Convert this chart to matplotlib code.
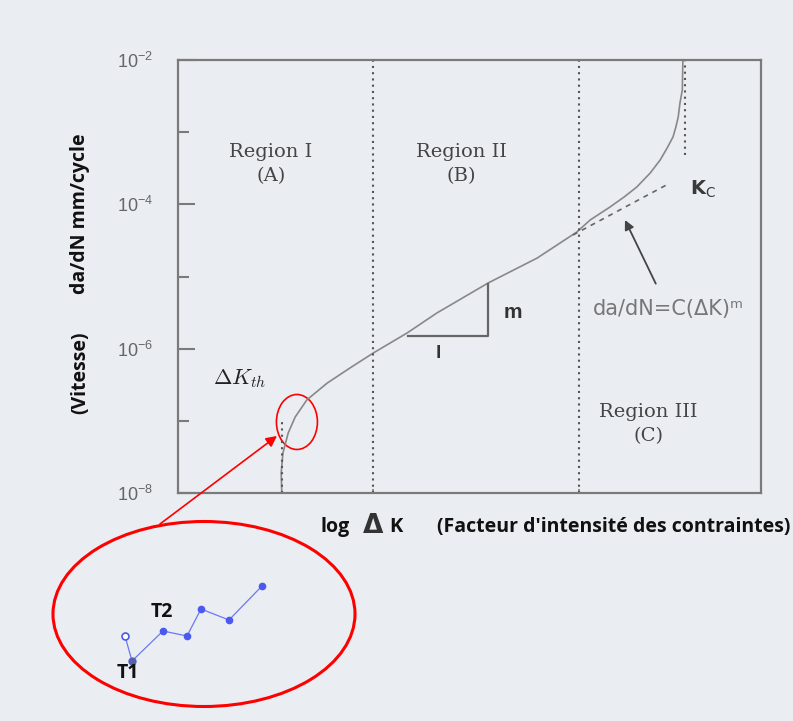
import numpy as np
import matplotlib
matplotlib.use("Agg")
import matplotlib.pyplot as plt
from matplotlib.patches import Ellipse

# da/dN curve (x = log dK in arbitrary units 0..10)
curve_x = [1.78, 1.77, 1.80, 1.89, 2.01, 2.21, 2.56, 2.95, 3.35, 3.93, 4.44,
           5.32, 6.16, 6.84, 7.07, 7.41, 7.65, 7.87, 8.10, 8.27, 8.39, 8.49,
           8.54, 8.58, 8.61, 8.65, 8.66]
curve_y = [1.0e-8, 1.89e-8, 3.58e-8, 6.78e-8, 1.13e-7, 1.95e-7, 3.34e-7, 5.4e-7,
           8.71e-7, 1.65e-6, 3.12e-6, 8.13e-6, 1.8e-5, 4.13e-5, 6.07e-5, 9.18e-5,
           1.26e-4, 1.74e-4, 2.72e-4, 4.11e-4, 6.03e-4, 8.57e-4, 1.18e-3, 1.62e-3,
           2.54e-3, 3.84e-3, 1.0e-2]

region_bounds = [3.345, 6.878]
dk_th = 1.78
k_c = 8.70
paris_x = [6.775, 8.439]
paris_y = [3.76e-5, 1.97e-4]
tri_x = [3.945, 5.317, 5.317]
tri_y = [1.5e-6, 1.5e-6, 7.87e-6]

region_names = ["Region I\n(A)", "Region II\n(B)", "Region III\n(C)"]
region_pos_x = [1.595, 4.854, 8.062]
region_pos_y = [3.6e-4, 3.6e-4, 9.0e-8]

ytick_major = [1e-8, 1e-6, 1e-4, 1e-2]
ytick_minor = [1e-7, 1e-5, 1e-3]

# zoomed threshold points (T1, T2 ...)
pts_x = [2.0, 2.7, 5.8, 8.2, 9.6, 12.4, 15.7]
pts_y = [3.9, 1.4, 4.4, 3.9, 6.6, 5.5, 8.9]

bg = "#eaedf2"
gray = "#7a7a7a"
lab_font = "Open Sans"

fig = plt.figure(figsize=(7.93, 7.21), dpi=100, facecolor=bg)
ax = fig.add_axes([178/793, 1-493/721, 583/793, 433/721], facecolor=bg)
ax.set_yscale("log")
ax.set_xlim(0, 10)
ax.set_ylim(1e-8, 1e-2)

for s in ax.spines.values():
    s.set_color(gray)
    s.set_linewidth(1.6)

ax.set_yticks(ytick_major)
ax.set_yticks(ytick_minor, minor=True)
ax.yaxis.set_minor_formatter(matplotlib.ticker.NullFormatter())
ax.tick_params(axis="y", which="major", direction="in", length=12, width=1.5,
               color=gray, pad=18, labelsize=13, labelcolor="#666666")
ax.tick_params(axis="y", which="minor", direction="in", length=8, width=1.5, color=gray)
ax.set_xticks(region_bounds)
ax.set_xticklabels([])
ax.tick_params(axis="x", direction="in", length=3, width=1.2, color=gray)
for lab in ax.get_yticklabels():
    lab.set_family("Liberation Sans")

# main curve and guides
ax.plot(curve_x, curve_y, color="#888888", lw=1.2)
for xb in region_bounds:
    ax.axvline(xb, color="#555555", lw=1.5, ls=(0, (1, 2)))
ax.plot([dk_th, dk_th], [1e-8, 1.1e-7], color="#555555", lw=1.5, ls=(0, (1, 2)))
ax.plot([k_c, k_c], [4.8e-4, 1e-2], color="#555555", lw=1.5, ls=(0, (1, 2)))
ax.plot(paris_x, paris_y, color="#666666", lw=1.2, ls=(0, (3, 3)))
ax.plot(tri_x, tri_y, color="#666666", lw=1.6)

for name, xx, yy in zip(region_names, region_pos_x, region_pos_y):
    ax.text(xx, yy, name, ha="center", va="center", fontsize=14,
            family="DejaVu Serif", color="#444444", linespacing=1.45)

ax.text(5.75, 3.22e-6, "m", ha="center", va="center", fontsize=15,
        fontweight="bold", family="Liberation Sans", color="#333333")
ax.text(4.46, 8.7e-7, "l", ha="center", va="center", fontsize=14,
        fontweight="bold", family="Liberation Sans", color="#333333")
ax.text(8.78, 1.62e-4, r"$\mathbf{K}_{\mathrm{C}}$", ha="left", va="center",
        fontsize=14, math_fontfamily="dejavusans", color="#3a3a3a")
ax.text(1.06, 3.9e-7, r"$\mathbf{\Delta} K_{th}$", ha="center", va="center",
        fontsize=16, math_fontfamily="cm", color="#222222")

ax.annotate("da/dN=C(\u0394K)\u1d50", xy=(7.667, 6.07e-5), xytext=(8.405, 3.55e-6),
            ha="center", va="center", fontsize=15, family="DejaVu Sans",
            color="#777777",
            arrowprops=dict(arrowstyle="-|>", color="#444444", lw=1.3,
                            mutation_scale=14, shrinkA=10, shrinkB=0))

# small red ellipse around threshold + arrow to the zoom
ax.add_patch(Ellipse((0.204, 0.164), 0.0703, 0.127, transform=ax.transAxes,
                     fill=False, ec="red", lw=1.2))
ax.annotate("", xy=(1.698, 6.17e-8), xycoords="data",
            xytext=(160/793, 1-524/721), textcoords="figure fraction",
            arrowprops=dict(arrowstyle="-|>", color="red", lw=1.2,
                            mutation_scale=16, shrinkA=0, shrinkB=0),
            annotation_clip=False)
fig.add_artist(Ellipse((204/793, 1-614/721), 302/793, 185/721,
                       transform=fig.transFigure, fill=False, ec="red", lw=2.2))

# axis labels
fig.text(80/793, 1-214/721, "da/dN mm/cycle", rotation=90, ha="center", va="center",
         fontsize=14, fontweight="bold", family=lab_font, color="#111111")
fig.text(80/793, 1-373/721, "(Vitesse)", rotation=90, ha="center", va="center",
         fontsize=14, fontweight="bold", family=lab_font, color="#111111")
fig.text(320/793, 1-527/721, "log", ha="left", va="center",
         fontsize=14, fontweight="bold", family=lab_font, color="#111111")
fig.text(373/793, 1-526/721, "\u0394", ha="center", va="center",
         fontsize=19, fontweight="bold", family="DejaVu Sans", color="#333333")
fig.text(389/793, 1-527/721, "K", ha="left", va="center",
         fontsize=14.5, fontweight="bold", family=lab_font, color="#111111")
fig.text(437/793, 1-527/721, "(Facteur d'intensit\u00e9 des contraintes)", ha="left",
         va="center", fontsize=14, fontweight="bold", family=lab_font, color="#111111")

# zoomed points
ins = fig.add_axes([105/793, 1-675/721, 180/793, 100/721])
ins.set_xlim(0, 18)
ins.set_ylim(0, 10)
ins.axis("off")
ins.plot(pts_x, pts_y, color="#6b78f5", lw=0.9)
ins.plot(pts_x[2:], pts_y[2:], "o", ms=4.5, color="#4a5af0")
ins.plot(pts_x[0], pts_y[0], "o", ms=5, mfc="white", mec="#4a5af0", mew=1.2)
ins.plot(pts_x[1], pts_y[1], "o", ms=5, color="#5560b0")
ins.text(5.7, 6.3, "T2", ha="center", va="center", fontsize=14, fontweight="bold",
         family=lab_font, color="#111111")
ins.text(2.3, 0.2, "T1", ha="center", va="center", fontsize=14, fontweight="bold",
         family=lab_font, color="#111111")

fig.savefig("out.png", dpi=100, facecolor=bg)
